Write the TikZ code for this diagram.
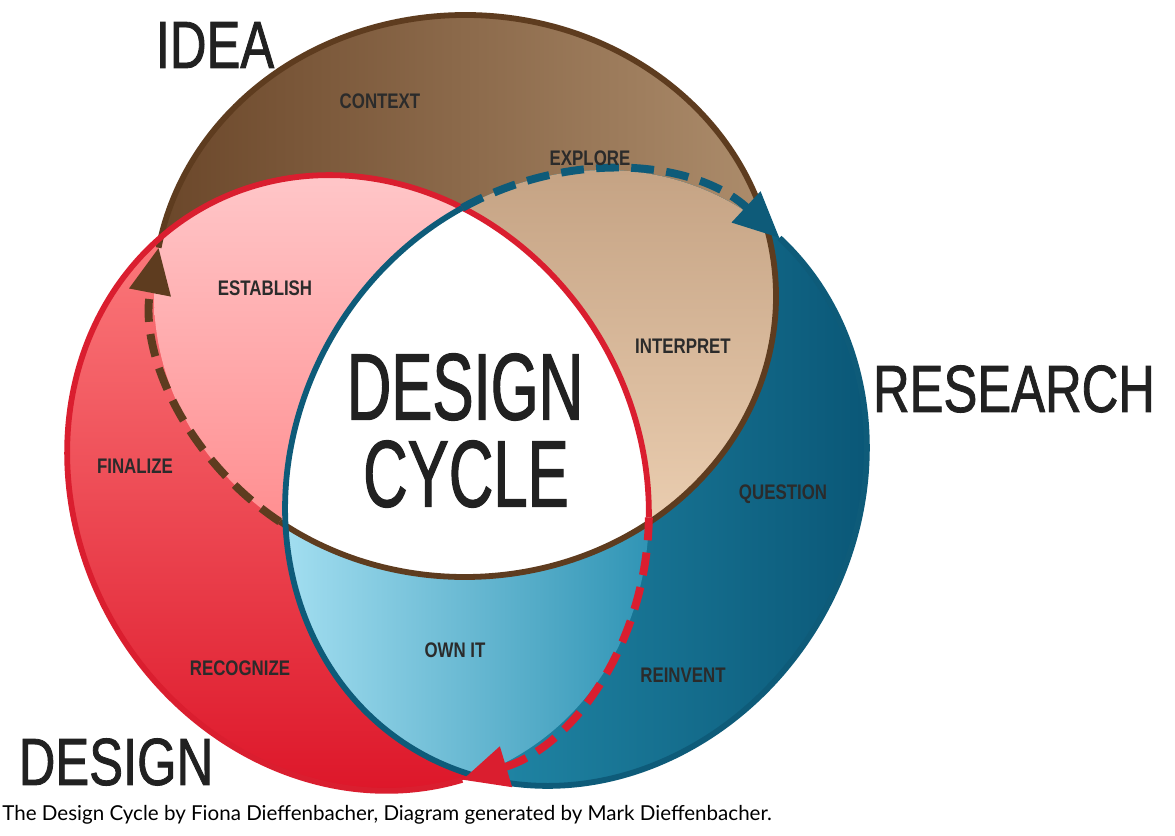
\documentclass[tikz,border=0pt]{standalone}
\usepackage{fontspec}
\setmainfont{Liberation Sans}
\newfontfamily\headfont[FakeStretch=0.76, FakeBold=1.2]{Liberation Sans}
\newfontfamily\corefont[FakeStretch=0.65, FakeBold=1.2]{Liberation Sans}
\newfontfamily\stagefont[FakeStretch=0.8]{Liberation Sans}
\newfontfamily\notefont{Lato}
\usepackage{tikz}
\usetikzlibrary{arrows.meta}

\definecolor{idealine}{HTML}{5E3C1F}
\definecolor{idealeft}{HTML}{6A4629}
\definecolor{idearight}{HTML}{AE8E6D}
\definecolor{designline}{HTML}{DA1E2F}
\definecolor{designtop}{HTML}{FF8585}
\definecolor{designbot}{HTML}{DD1629}
\definecolor{researchline}{HTML}{0E5B79}
\definecolor{researchleft}{HTML}{2C9FBE}
\definecolor{researchright}{HTML}{0A5777}
\definecolor{establishtop}{HTML}{FFC7C9}
\definecolor{establishbot}{HTML}{FF8E90}
\definecolor{interprettop}{HTML}{C5A384}
\definecolor{interpretbot}{HTML}{F0D4B7}
\definecolor{ownleft}{HTML}{A4DFF1}
\definecolor{ownright}{HTML}{2E93B4}
\definecolor{labeltext}{HTML}{2B2B2B}

% the three overlapping rings
\newcommand\ideashape{(465,539) ellipse [x radius=311, y radius=281]}
\newcommand\designshape{(358,352) ellipse [x radius=316, y radius=282, rotate=-60]}
\newcommand\researchshape{(576,357) ellipse [x radius=316, y radius=282, rotate=60]}

\begin{document}
\begin{tikzpicture}[x=0.02cm, y=0.02cm,
    stage/.style={font=\stagefont\bfseries\fontsize{12}{14}\selectfont, text=labeltext, inner sep=0pt},
    heading/.style={font=\headfont\fontsize{38}{40}\selectfont, text=black!87, inner sep=0pt},
    core/.style={font=\corefont\fontsize{54}{58}\selectfont, text=black!87, inner sep=0pt},
    outline/.style={line width=3.3pt},
    flow/.style={line width=4.5pt, dash pattern=on 13pt off 7pt, -{Triangle[length=26pt, width=23pt]}}]

  \useasboundingbox (0,0) rectangle (1175,835);
  \fill[white] (0,0) rectangle (1175,835);

  % base fills
  \begin{scope}
    \clip \ideashape;
    \shade[left color=idealeft, right color=idearight] (150,255) rectangle (780,825);
  \end{scope}
  \begin{scope}
    \clip \designshape;
    \shade[top color=designtop, bottom color=designbot] (60,40) rectangle (655,665);
  \end{scope}
  \begin{scope}
    \clip \researchshape;
    \shade[left color=researchleft, right color=researchright] (280,45) rectangle (870,670);
  \end{scope}

  % overlaps
  \begin{scope}
    \clip \ideashape;
    \clip \designshape;
    \shade[top color=establishtop, bottom color=establishbot] (150,310) rectangle (655,665);
  \end{scope}
  \begin{scope}
    \clip \ideashape;
    \clip \researchshape;
    \shade[top color=interprettop, bottom color=interpretbot] (440,255) rectangle (780,665);
  \end{scope}
  \begin{scope}
    \clip \designshape;
    \clip \researchshape;
    \shade[left color=ownleft, right color=ownright] (280,45) rectangle (655,330);
  \end{scope}
  \begin{scope}
    \clip \ideashape;
    \clip \designshape;
    \fill[white] \researchshape;
  \end{scope}

  % outlines and the dashed hand-overs
  \begin{scope}[shift={(465,539)}]
    \draw[outline, idealine] (233.4:311 and 281) arc [start angle=233.4, end angle=530.1, x radius=311, y radius=281];
  \end{scope}
  \begin{scope}[shift={(358,352)}, rotate=-60]
    \draw[outline, designline] (56.3:316 and 282) arc [start angle=56.3, end angle=348.1, x radius=316, y radius=282];
  \end{scope}
  \begin{scope}[shift={(576,357)}, rotate=60]
    \draw[outline, researchline] (55.9:316 and 282) arc [start angle=55.9, end angle=348.5, x radius=316, y radius=282];
  \end{scope}

  \begin{scope}[shift={(465,539)}]
    \draw[flow, idealine] (233.4:311 and 281) arc [start angle=233.4, end angle=170.1, x radius=311, y radius=281];
  \end{scope}
  \begin{scope}[shift={(358,352)}, rotate=-60]
    \draw[flow, designline] (56.3:316 and 282) arc [start angle=56.3, end angle=-11.9, x radius=316, y radius=282];
  \end{scope}
  \begin{scope}[shift={(576,357)}, rotate=60]
    \draw[flow, researchline] (55.9:316 and 282) arc [start angle=55.9, end angle=-11.5, x radius=316, y radius=282];
  \end{scope}

  % headings
  \node[heading] (idea) at (215,790) {IDEA};
  \node[heading] (research) at (1014,446) {RESEARCH};
  \node[heading] (design) at (116,73) {DESIGN};
  \node[core] (coretop) at (465,448) {DESIGN};
  \node[core] (corebottom) at (466,361) {CYCLE};

  % stage labels
  \foreach \n/\x/\y/\t in {context/380/734/CONTEXT, explore/590/677/EXPLORE,
      establish/265/547/ESTABLISH, interpret/683/489/INTERPRET,
      finalize/135/369/FINALIZE, question/783/341/QUESTION,
      ownit/455/185/OWN IT, recognize/240/167/RECOGNIZE, reinvent/683/160/REINVENT}
    \node[stage] (\n) at (\x,\y) {\t};

  \node[anchor=base west, inner sep=0pt, font=\notefont\fontsize{11.7}{13}\selectfont] (credit) at (2,15)
    {The Design Cycle by Fiona Dieffenbacher, Diagram generated by Mark Dieffenbacher.};
\end{tikzpicture}
\end{document}
